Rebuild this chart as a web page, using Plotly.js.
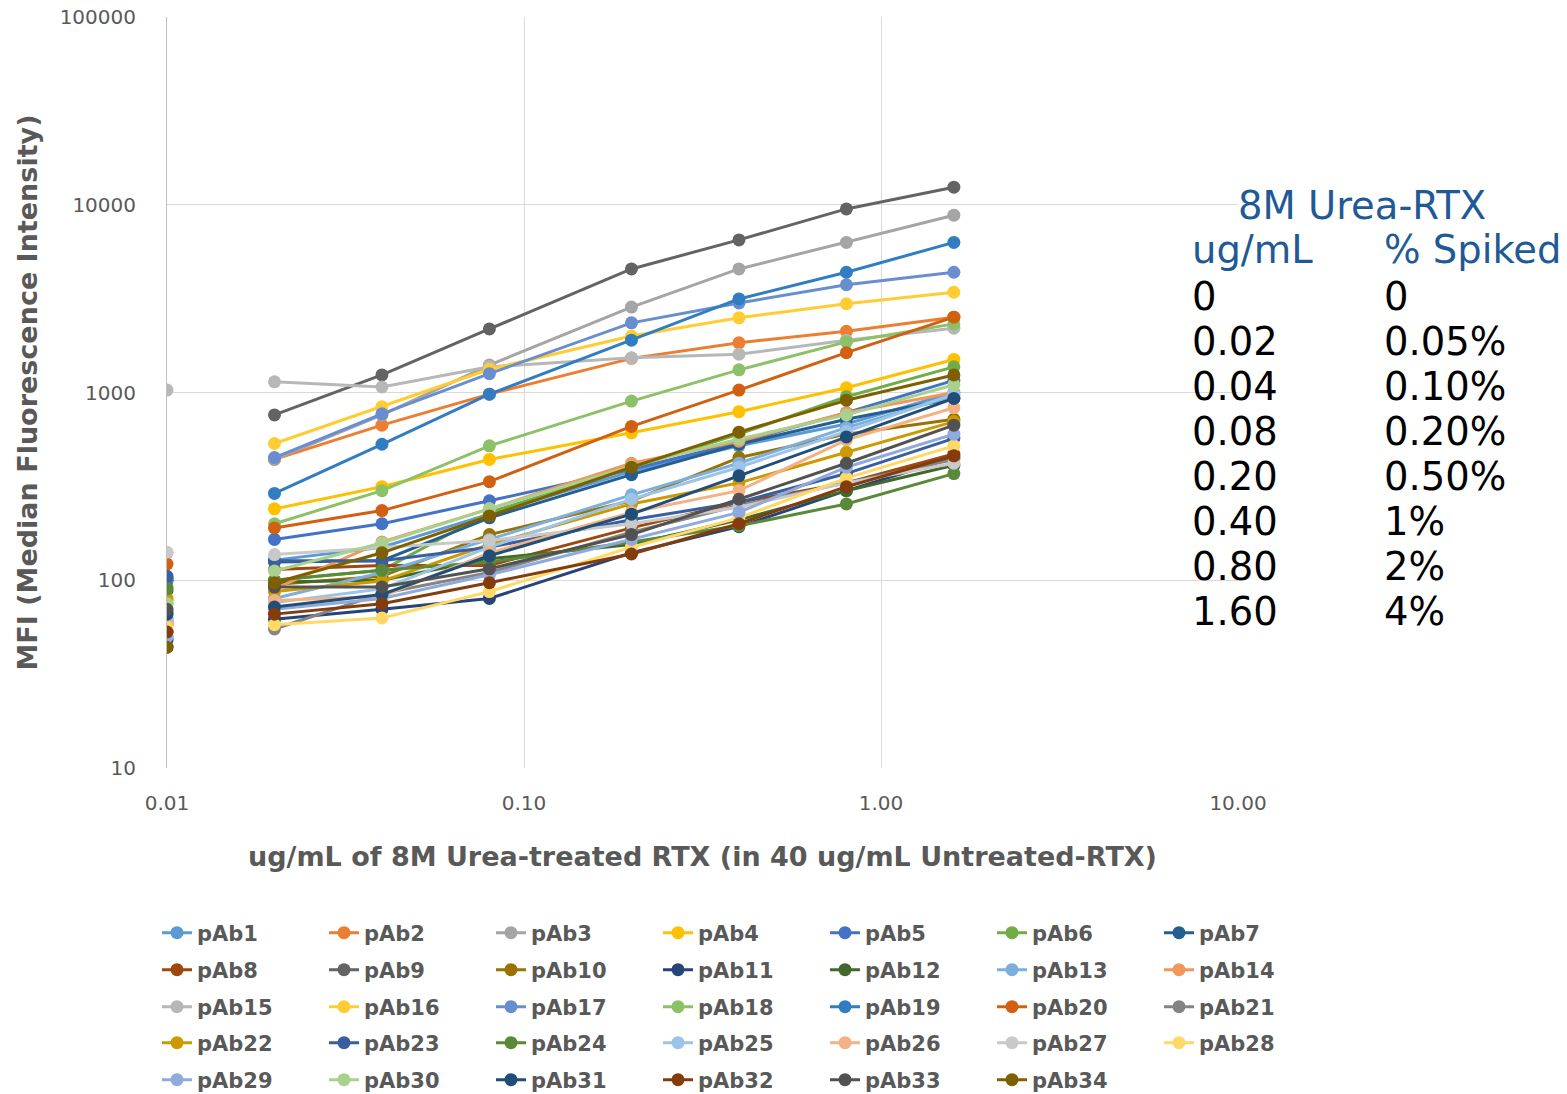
<!DOCTYPE html>
<html>
<head>
<meta charset="utf-8">
<script src="https://cdn.plot.ly/plotly-3.0.1.min.js"></script>
<style>html,body{margin:0;padding:0;background:#fff;}#chart{width:1567px;height:1094px;}</style>
</head>
<body>
<div id="chart"></div>
<script>
// ---- data ----
const blankX = 0.01; // buffer-only (0 ug/mL) well, drawn at the left edge of the log axis
const concentrations = [0.02, 0.04, 0.08, 0.20, 0.40, 0.80, 1.60];

const seriesNames = ['pAb1','pAb2','pAb3','pAb4','pAb5','pAb6','pAb7','pAb8','pAb9','pAb10',
  'pAb11','pAb12','pAb13','pAb14','pAb15','pAb16','pAb17','pAb18','pAb19','pAb20',
  'pAb21','pAb22','pAb23','pAb24','pAb25','pAb26','pAb27','pAb28','pAb29','pAb30',
  'pAb31','pAb32','pAb33','pAb34'];

// MFI at blank, then at each concentration
const pAb1  = [60, 128, 150, 225, 380, 520, 680, 1000];
const pAb2  = [58, 440, 670, 980, 1520, 1840, 2120, 2520];
const pAb3  = [140, 440, 760, 1400, 2850, 4550, 6300, 8800];
const pAb4  = [78, 240, 315, 440, 610, 790, 1060, 1500];
const pAb5  = [103, 165, 200, 265, 390, 540, 780, 1160];
const pAb6  = [92, 100, 113, 230, 395, 600, 950, 1370];
const pAb7  = [100, 125, 127, 215, 365, 530, 720, 930];
const pAb8  = [53, 114, 120, 120, 190, 260, 330, 470];
const pAb9  = [68, 760, 1240, 2180, 4550, 6500, 9500, 12400];
const pAb10 = [44, 95, 105, 175, 265, 450, 600, 720];
const pAb11 = [48, 62, 70, 80, 140, 193, 300, 450];
const pAb12 = [88, 98, 100, 130, 155, 210, 300, 410];
const pAb13 = [60, 80, 110, 165, 285, 420, 650, 960];
const pAb14 = [58, 90, 160, 240, 420, 550, 780, 1000];
const pAb15 = [1030, 1140, 1070, 1370, 1530, 1600, 1900, 2200];
const pAb16 = [78, 535, 840, 1330, 2000, 2500, 2970, 3420];
const pAb17 = [50, 450, 770, 1260, 2350, 3000, 3750, 4370];
const pAb18 = [75, 200, 300, 520, 900, 1320, 1860, 2320];
const pAb19 = [100, 290, 530, 980, 1900, 3150, 4370, 6300];
const pAb20 = [122, 190, 235, 335, 660, 1030, 1630, 2520];
const pAb21 = [62, 55, 85, 110, 180, 250, 330, 440];
const pAb22 = [80, 87, 99, 155, 255, 330, 480, 700];
const pAb23 = [105, 127, 127, 150, 210, 260, 370, 570];
const pAb24 = [90, 100, 113, 125, 160, 195, 255, 370];
const pAb25 = [62, 76, 90, 150, 270, 400, 620, 980];
const pAb26 = [58, 78, 82, 140, 230, 300, 560, 830];
const pAb27 = [141, 137, 150, 163, 200, 245, 330, 420];
const pAb28 = [56, 58, 63, 87, 150, 215, 350, 520];
const pAb29 = [50, 70, 80, 107, 165, 230, 400, 600];
const pAb30 = [75, 112, 158, 240, 405, 565, 760, 1100];
const pAb31 = [66, 72, 84, 135, 225, 360, 580, 930];
const pAb32 = [53, 66, 75, 97, 138, 200, 315, 460];
const pAb33 = [70, 92, 92, 115, 175, 270, 420, 670];
const pAb34 = [44, 97, 140, 220, 400, 615, 910, 1240];

const seriesValues = [pAb1,pAb2,pAb3,pAb4,pAb5,pAb6,pAb7,pAb8,pAb9,pAb10,pAb11,pAb12,
  pAb13,pAb14,pAb15,pAb16,pAb17,pAb18,pAb19,pAb20,pAb21,pAb22,pAb23,pAb24,pAb25,
  pAb26,pAb27,pAb28,pAb29,pAb30,pAb31,pAb32,pAb33,pAb34];

const seriesColors = ['#5B9BD5','#ED7D31','#A5A5A5','#FFC000','#4472C4','#70AD47',
  '#255E91','#9E480E','#636363','#997300','#264478','#43682B',
  '#7CAFDD','#F1975A','#B7B7B7','#FFCD33','#698ED0','#8CC168',
  '#327DC2','#D26012','#848484','#CC9A00','#3A5FA0','#5A8A39',
  '#9DC3E6','#F4B183','#C9C9C9','#FFD966','#8FAADC','#A9D18E',
  '#1F4E79','#843C0C','#525252','#7F6000'];

const xTickVals = [0.01, 0.1, 1, 10];
const xTickText = ['0.01', '0.10', '1.00', '10.00'];
const yTickVals = [10, 100, 1000, 10000, 100000];
const yTickText = ['10', '100', '1000', '10000', '100000'];

const tableHeader = '8M Urea-RTX';
const tableColHeads = ['ug/mL', '% Spiked'];
const tableConc = ['0', '0.02', '0.04', '0.08', '0.20', '0.40', '0.80', '1.60'];
const tablePct = ['0', '0.05%', '0.10%', '0.20%', '0.50%', '1%', '2%', '4%'];

// ---- layout helpers (pixel -> paper) ----
const W = 1567, H = 1094;
const M = {l: 167, r: 329, t: 17, b: 326};
const PW = W - M.l - M.r, PH = H - M.t - M.b;
const px2x = p => (p - M.l) / PW;
const py2y = p => (H - M.b - p) / PH;

const gray = '#595959';
const traces = [];
const legendIds = ['legend', 'legend2', 'legend3', 'legend4', 'legend5'];

seriesNames.forEach((name, i) => {
  traces.push({
    type: 'scatter', mode: 'lines+markers', name: name,
    x: concentrations, y: seriesValues[i].slice(1),
    line: {color: seriesColors[i], width: 3},
    marker: {color: seriesColors[i], size: 13},
    legend: legendIds[Math.floor(i / 7)],
    hoverinfo: 'x+y+name'
  });
});
// blank (0 ug/mL) readings, unconnected, at the left edge
traces.push({
  type: 'scatter', mode: 'markers', showlegend: false,
  x: seriesValues.map(() => blankX),
  y: seriesValues.map(v => v[0]),
  marker: {color: seriesColors, size: 13},
  text: seriesNames, hoverinfo: 'text+y'
});

const legendRowsY = [933, 970, 1007, 1043, 1080];
const legendFont = {family: 'DejaVu Sans', size: 21, color: gray, weight: 'bold'};
const layout = {
  width: W, height: H, autosize: false,
  margin: Object.assign({autoexpand: false}, M),
  paper_bgcolor: '#ffffff', plot_bgcolor: '#ffffff',
  showlegend: true,
  xaxis: {
    type: 'log', range: [-2, 1],
    tickvals: xTickVals, ticktext: xTickText,
    showgrid: true, gridcolor: '#D9D9D9', gridwidth: 1,
    showline: false, zeroline: false, ticks: '',
    ticklabelstandoff: 21,
    tickfont: {family: 'DejaVu Sans', size: 20, color: gray},
    title: {text: 'ug/mL of 8M Urea-treated RTX (in 40 ug/mL Untreated-RTX)',
            font: {family: 'DejaVu Sans', size: 27, color: gray, weight: 'bold'}, standoff: 33}
  },
  yaxis: {
    type: 'log', range: [1, 5],
    tickvals: yTickVals, ticktext: yTickText,
    showgrid: true, gridcolor: '#D9D9D9', gridwidth: 1,
    showline: true, linecolor: '#BFBFBF', linewidth: 1,
    zeroline: false, ticks: '',
    ticklabelstandoff: 26,
    tickfont: {family: 'DejaVu Sans', size: 20, color: gray},
    title: {text: 'MFI (Median Fluorescence Intensity)',
            font: {family: 'DejaVu Sans', size: 27, color: gray, weight: 'bold'}, standoff: 14}
  },
  annotations: []
};

legendIds.forEach((id, r) => {
  layout[id] = {
    orientation: 'h', x: px2x(157), xanchor: 'left',
    y: py2y(legendRowsY[r]), yanchor: 'middle',
    entrywidth: 122, entrywidthmode: 'pixels',
    font: legendFont, bgcolor: 'rgba(0,0,0,0)', borderwidth: 0,
    tracegroupgap: 0
  };
});

// side table
const tblFont = {family: 'DejaVu Sans', size: 38.5, color: '#000000'};
const tblBlue = {family: 'DejaVu Sans', size: 38.5, color: '#1F5A96'};
const ann = (text, xp, yp, font) => layout.annotations.push({
  text: text, xref: 'paper', yref: 'paper', x: px2x(xp), y: py2y(yp),
  xanchor: 'left', yanchor: 'middle', showarrow: false, font: font
});
ann(tableHeader, 1236, 205, tblBlue);
ann(tableColHeads[0], 1190, 250, tblBlue);
ann(tableColHeads[1], 1382, 250, tblBlue);
tableConc.forEach((c, i) => {
  const yy = 296 + i * 45.1;
  ann(c, 1190, yy, tblFont);
  ann(tablePct[i], 1382, yy, tblFont);
});

Plotly.newPlot('chart', traces, layout, {displayModeBar: false, staticPlot: true});
</script>
</body>
</html>
